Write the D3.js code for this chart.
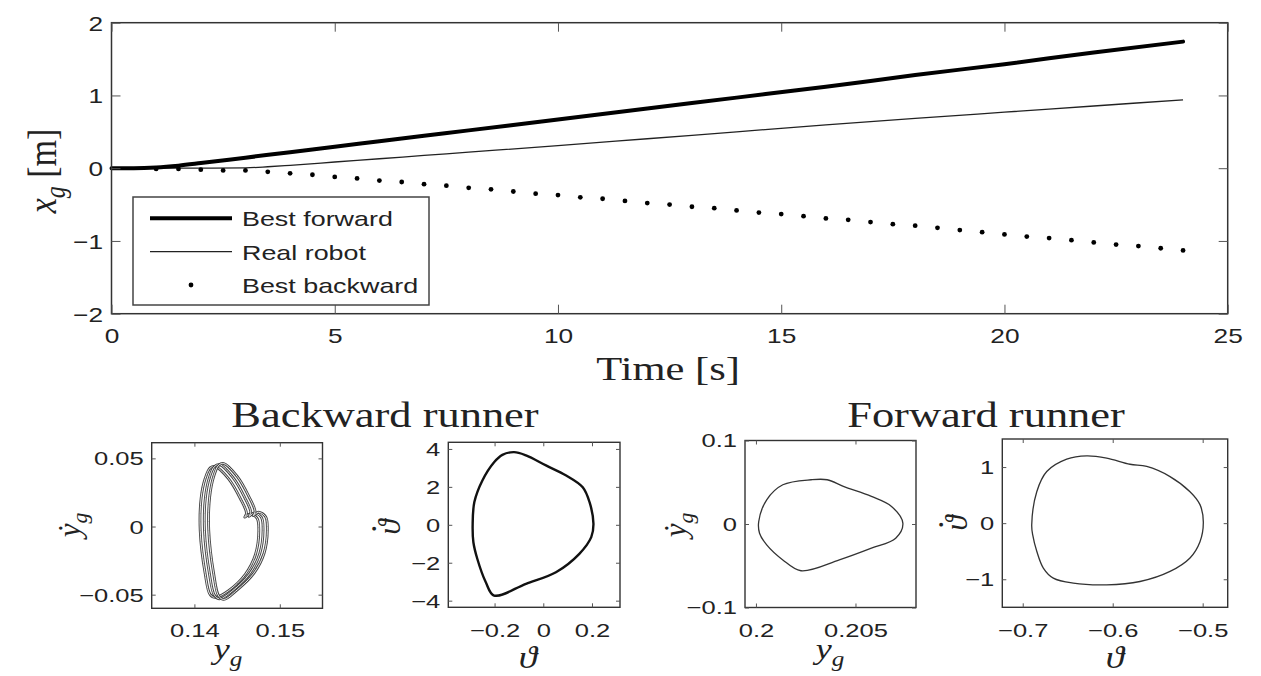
<!DOCTYPE html>
<html>
<head>
<meta charset="utf-8">
<script src="https://cdn.jsdelivr.net/npm/d3@7"></script>
<style>
  body { margin: 0; background: #fff; }
  svg { display: block; }
</style>
</head>
<body>
<svg id="chart"></svg>
<script>
// ---- top chart: x_g over time ----
var timeForward = [0, 0.5, 1, 1.5, 2, 3, 4, 5, 6, 7, 8, 10, 12, 14, 16, 18, 20, 22, 24];
var bestForward = [0, 0, 0.01, 0.035, 0.07, 0.145, 0.22, 0.295, 0.37, 0.445, 0.52, 0.67, 0.82, 0.97, 1.12, 1.28, 1.43, 1.59, 1.74];

var timeReal = [0, 1, 2, 3, 3.5, 4, 5, 6, 7, 8, 10, 12, 14, 16, 18, 20, 22, 24];
var realRobot = [0, 0, 0, 0.005, 0.02, 0.04, 0.085, 0.13, 0.175, 0.22, 0.31, 0.405, 0.50, 0.595, 0.685, 0.77, 0.855, 0.94];

var timeBackward = [1, 1.5, 2, 2.5, 3, 3.5, 4, 4.5, 5, 5.5, 6, 6.5, 7, 7.5, 8, 8.5, 9, 9.5, 10, 10.5, 11, 11.5,
  12, 12.5, 13, 13.5, 14, 14.5, 15, 15.5, 16, 16.5, 17, 17.5, 18, 18.5, 19, 19.5, 20, 20.5, 21, 21.5, 22, 22.5, 23, 23.5, 24];
var bestBackward = [-0.01, -0.01, -0.02, -0.03, -0.03, -0.05, -0.07, -0.09, -0.12, -0.14, -0.17, -0.19, -0.22, -0.24,
  -0.27, -0.29, -0.32, -0.35, -0.37, -0.40, -0.42, -0.45, -0.48, -0.50, -0.53, -0.55, -0.58, -0.61, -0.63, -0.66,
  -0.69, -0.71, -0.74, -0.77, -0.79, -0.82, -0.85, -0.88, -0.91, -0.94, -0.96, -0.99, -1.02, -1.05, -1.07, -1.10, -1.13];

var timeTicks = [0, 5, 10, 15, 20, 25];
var xgTicks = [-2, -1, 0, 1, 2];
var legendLabels = ["Best forward", "Real robot", "Best backward"];

// ---- bottom panels: limit cycles ----
// backward runner, lateral position y_g vs its rate (three successive cycles)
var backYgLoop1 = [[0.14244, 0.0440], [0.14401, 0.0350], [0.14538, 0.0205], [0.14610, 0.0098], [0.14590, 0.0068],
  [0.14650, 0.0092], [0.14734, 0.0060], [0.14754, -0.0035], [0.14715, -0.0205], [0.14597, -0.0350], [0.14401, -0.0470],
  [0.14244, -0.0520], [0.14185, -0.0500], [0.14126, -0.0345], [0.14068, -0.0030], [0.14079, 0.0210], [0.14126, 0.0352], [0.14185, 0.0430]];
var backYgLoop2 = [[0.14294, 0.0454], [0.14451, 0.0360], [0.14588, 0.0214], [0.14660, 0.0105], [0.14640, 0.0075],
  [0.14700, 0.0100], [0.14784, 0.0068], [0.14804, -0.0030], [0.14765, -0.0200], [0.14647, -0.0346], [0.14451, -0.0469],
  [0.14294, -0.0530], [0.14235, -0.0505], [0.14176, -0.0346], [0.14118, -0.0030], [0.14129, 0.0214], [0.14176, 0.0360], [0.14235, 0.0440]];
var backYgLoop3 = [[0.14344, 0.0462], [0.14501, 0.0368], [0.14638, 0.0220], [0.14710, 0.0110], [0.14690, 0.0080],
  [0.14750, 0.0105], [0.14834, 0.0072], [0.14854, -0.0028], [0.14815, -0.0198], [0.14697, -0.0342], [0.14501, -0.0465],
  [0.14344, -0.0535], [0.14285, -0.0510], [0.14226, -0.0347], [0.14168, -0.0028], [0.14179, 0.0218], [0.14226, 0.0368], [0.14285, 0.0450]];
// backward runner, theta vs theta dot
var backThetaLoop = [[-0.12, 3.83], [-0.071, 3.66], [0.011, 3.13], [0.094, 2.6], [0.162, 1.98], [0.19, 1.19], [0.206, 0.05],
  [0.197, -0.65], [0.148, -1.53], [0.052, -2.5], [-0.071, -3.11], [-0.202, -3.73], [-0.236, -3.03], [-0.271, -1.79],
  [-0.287, -0.92], [-0.29, 0], [-0.283, 1.2], [-0.25, 2.34], [-0.202, 3.3], [-0.168, 3.69]];
// forward runner, y_g vs its rate
var fwdYgLoop = [[0.20014, 0.003], [0.20054, 0.029], [0.20135, 0.047], [0.20277, 0.053], [0.20358, 0.053], [0.20439, 0.045],
  [0.2058, 0.033], [0.20681, 0.021], [0.20738, 0.001], [0.20702, -0.017], [0.2058, -0.029], [0.20419, -0.043],
  [0.20226, -0.056], [0.20135, -0.043], [0.20054, -0.025], [0.20018, -0.011]];
// forward runner, theta vs theta dot
var fwdThetaLoop = [[-0.69, -0.03], [-0.6844, 0.56], [-0.6733, 0.92], [-0.6511, 1.14], [-0.6289, 1.2], [-0.6067, 1.16],
  [-0.5808, 1.05], [-0.5622, 1.01], [-0.5363, 0.83], [-0.5141, 0.56], [-0.503, 0.33], [-0.4993, 0.02], [-0.503, -0.33],
  [-0.5141, -0.62], [-0.5363, -0.86], [-0.5697, -1.04], [-0.6067, -1.1], [-0.6438, -1.07], [-0.666, -0.98],
  [-0.6771, -0.8], [-0.6844, -0.5], [-0.6889, -0.21]];

var panelTitles = ["Backward runner", "Forward runner"];

var SX = 1.26; // the figure is stretched sideways, text too
var SERIF = "'Liberation Serif', 'DejaVu Serif', serif";
var SANS = "'Liberation Sans', Arial, sans-serif";
var INK = "#222";
var fmt = d3.format("~g");

var svg = d3.select("#chart").attr("width", 1261).attr("height", 676);

function addText(g, x, y, str, size, opts) {
  opts = opts || {};
  var sx = opts.sx === undefined ? SX : opts.sx;
  var t = g.append("text")
    .attr("transform", "translate(" + x + "," + y + ") scale(" + sx + ",1)" + (opts.rotate ? " rotate(" + opts.rotate + ")" : ""))
    .attr("text-anchor", opts.anchor || "middle")
    .attr("font-family", opts.family || SERIF)
    .attr("font-size", size)
    .attr("fill", opts.fill || INK);
  if (str) t.text(str);
  return t;
}

// italic symbol, optional dot above, optional subscript, optional upright tail
function mathLabel(g, x, y, main, sub, rest, size, opts) {
  opts = opts || {};
  var t = addText(g, x, y, null, size, opts).attr("font-style", "italic");
  t.append("tspan").text(main);
  if (opts.dot) t.append("tspan").attr("font-style", "normal").attr("dx", -size * 0.42).attr("dy", -size * 0.78).text(".");
  if (sub) t.append("tspan").attr("font-size", size * 0.7).attr("dy", size * 0.22).text(sub);
  if (rest) t.append("tspan").attr("font-style", "normal").attr("dy", -size * 0.22).text(rest);
  return t;
}

// draw ticks on all four sides, labels on left and bottom
function boxAxes(g, x, y, o) {
  var L = x.range()[0], R = x.range()[1], B = y.range()[0], T = y.range()[1];
  g.append("rect").attr("x", L).attr("y", T).attr("width", R - L).attr("height", B - T)
    .attr("fill", "none").attr("stroke", "#333").attr("stroke-width", o.box);

  var bottom = g.append("g").attr("transform", "translate(0," + B + ")")
    .call(d3.axisBottom(x).tickValues(o.xTicks).tickSize(-o.tick).tickPadding(o.baseX - B - 0.71 * o.font).tickFormat(fmt));
  var topAx = g.append("g").attr("transform", "translate(0," + T + ")")
    .call(d3.axisTop(x).tickValues(o.xTicks).tickSize(-o.tick).tickFormat(""));
  var left = g.append("g").attr("transform", "translate(" + L + ",0)")
    .call(d3.axisLeft(y).tickValues(o.yTicks).tickSize(-o.tick).tickFormat(fmt));
  var right = g.append("g").attr("transform", "translate(" + R + ",0)")
    .call(d3.axisRight(y).tickValues(o.yTicks).tickSize(-o.tick).tickFormat(""));

  [bottom, topAx, left, right].forEach(function (a) {
    a.select(".domain").remove();
    a.selectAll(".tick line").attr("stroke", "#555").attr("stroke-width", 1);
    a.selectAll(".tick text").attr("font-family", SANS).attr("font-size", o.font).attr("fill", INK);
  });
  bottom.selectAll(".tick text").attr("transform", "scale(" + o.sx + ",1)");
  left.selectAll(".tick text").attr("x", -o.gapY / o.sx).attr("dy", "0.35em")
    .attr("transform", "scale(" + o.sx + ",1)");
}

// ---------------- top chart ----------------
var xTop = d3.scaleLinear().domain([0, 25]).range([111.5, 1227.7]);
var yTop = d3.scaleLinear().domain([-2, 2]).range([313.7, 22.7]);
var topG = svg.append("g");

var topLine = d3.line()
  .x(function (d) { return xTop(d[0]); })
  .y(function (d) { return yTop(d[1]); })
  .curve(d3.curveMonotoneX);

topG.append("path")
  .datum(d3.zip(timeReal, realRobot))
  .attr("fill", "none").attr("stroke", "#222").attr("stroke-width", 1.3)
  .attr("d", topLine);

topG.append("path")
  .datum(d3.zip(timeForward, bestForward))
  .attr("fill", "none").attr("stroke", "#000").attr("stroke-width", 4).attr("stroke-linecap", "round")
  .attr("d", topLine);

topG.selectAll("circle.back")
  .data(d3.zip(timeBackward, bestBackward))
  .enter().append("circle").attr("class", "back")
  .attr("cx", function (d) { return xTop(d[0]); })
  .attr("cy", function (d) { return yTop(d[1]); })
  .attr("r", 2.4).attr("fill", "#000");

boxAxes(topG, xTop, yTop, {
  xTicks: timeTicks, yTicks: xgTicks, tick: 9, font: 21, sx: 1.25,
  baseX: 343, gapY: 8.5, box: 1.5
});

addText(topG, 668, 380, "Time [s]", 34, { sx: 1.25 });
mathLabel(topG, 56, 171, "x", "g", " [m]", 34, { sx: 1.2, rotate: -90 });

// legend
var leg = topG.append("g");
leg.append("rect").attr("x", 133).attr("y", 197).attr("width", 296).attr("height", 108)
  .attr("fill", "#fff").attr("stroke", "#444").attr("stroke-width", 1.5);
var rowY = d3.scalePoint().domain(legendLabels).range([218.3, 285]);
leg.append("line").attr("x1", 150).attr("x2", 232).attr("y1", rowY(legendLabels[0])).attr("y2", rowY(legendLabels[0]))
  .attr("stroke", "#000").attr("stroke-width", 4);
leg.append("line").attr("x1", 150).attr("x2", 232).attr("y1", rowY(legendLabels[1])).attr("y2", rowY(legendLabels[1]))
  .attr("stroke", "#222").attr("stroke-width", 1.3);
leg.append("circle").attr("cx", 191).attr("cy", rowY(legendLabels[2])).attr("r", 2.4).attr("fill", "#000");
legendLabels.forEach(function (name) {
  addText(leg, 242, rowY(name) + 8, name, 21, { anchor: "start", family: SANS, sx: 1.28 });
});

// ---------------- bottom panels ----------------
function panel(p) {
  var x = d3.scaleLinear().domain(p.xDomain).range([p.left, p.right]);
  var y = d3.scaleLinear().domain(p.yDomain).range([p.bottom, p.top]);
  var g = svg.append("g");
  var line = d3.line().x(function (d) { return x(d[0]); }).y(function (d) { return y(d[1]); })
    .curve(d3.curveCatmullRomClosed.alpha(0.5));
  p.loops.forEach(function (loop) {
    if (p.hollow) {
      g.append("path").datum(loop).attr("fill", "none").attr("stroke", "#444").attr("stroke-width", 2.8).attr("d", line);
      g.append("path").datum(loop).attr("fill", "none").attr("stroke", "#fff").attr("stroke-width", 0.9).attr("d", line);
    } else {
      g.append("path").datum(loop).attr("fill", "none").attr("stroke", p.stroke).attr("stroke-width", p.width).attr("d", line);
    }
  });
  boxAxes(g, x, y, {
    xTicks: p.xTicks, yTicks: p.yTicks, tick: 4, font: 18.5, sx: 1.38,
    baseX: 637, gapY: 8, box: 1.4
  });
  return g;
}

var p1 = panel({
  left: 151.7, right: 322.5, top: 442.7, bottom: 608.3,
  xDomain: [0.135, 0.155], yDomain: [-0.06, 0.0615],
  xTicks: [0.14, 0.15], yTicks: [-0.05, 0, 0.05],
  loops: [backYgLoop1, backYgLoop2, backYgLoop3], hollow: true
});
var p2 = panel({
  left: 448.3, right: 620, top: 442.3, bottom: 607.3,
  xDomain: [-0.39, 0.315], yDomain: [-4.35, 4.35],
  xTicks: [-0.2, 0, 0.2], yTicks: [-4, -2, 0, 2, 4],
  loops: [backThetaLoop], stroke: "#111", width: 2.4
});
var p3 = panel({
  left: 745, right: 916, top: 440.5, bottom: 607.5,
  xDomain: [0.19945, 0.20804], yDomain: [-0.1, 0.1],
  xTicks: [0.2, 0.205], yTicks: [-0.1, 0, 0.1],
  loops: [fwdYgLoop], stroke: "#333", width: 1.3
});
var p4 = panel({
  left: 1002.3, right: 1227.7, top: 439, bottom: 607.3,
  xDomain: [-0.7227, -0.4722], yDomain: [-1.5, 1.5],
  xTicks: [-0.7, -0.6, -0.5], yTicks: [-1, 0, 1],
  loops: [fwdThetaLoop], stroke: "#333", width: 1.3
});

// axis labels
mathLabel(p1, 228, 659, "y", "g", null, 30, { sx: 1.2 });
mathLabel(p1, 80, 525, "\u1E8F", "g", null, 31, { sx: 1, rotate: -90 });
mathLabel(p2, 528, 668, "\u03D1", null, null, 31, { sx: 1.2 });
mathLabel(p2, 400, 527, "\u03D1", null, null, 31, { sx: 1, rotate: -90, dot: true });
mathLabel(p3, 830, 659, "y", "g", null, 30, { sx: 1.2 });
mathLabel(p3, 686, 525, "\u1E8F", "g", null, 31, { sx: 1, rotate: -90 });
mathLabel(p4, 1115, 668, "\u03D1", null, null, 31, { sx: 1.2 });
mathLabel(p4, 967, 523, "\u03D1", null, null, 31, { sx: 1, rotate: -90, dot: true });

// titles
addText(svg, 385, 427, panelTitles[0], 35, { sx: 1.27 });
addText(svg, 986, 427, panelTitles[1], 35, { sx: 1.27 });
</script>
</body>
</html>
